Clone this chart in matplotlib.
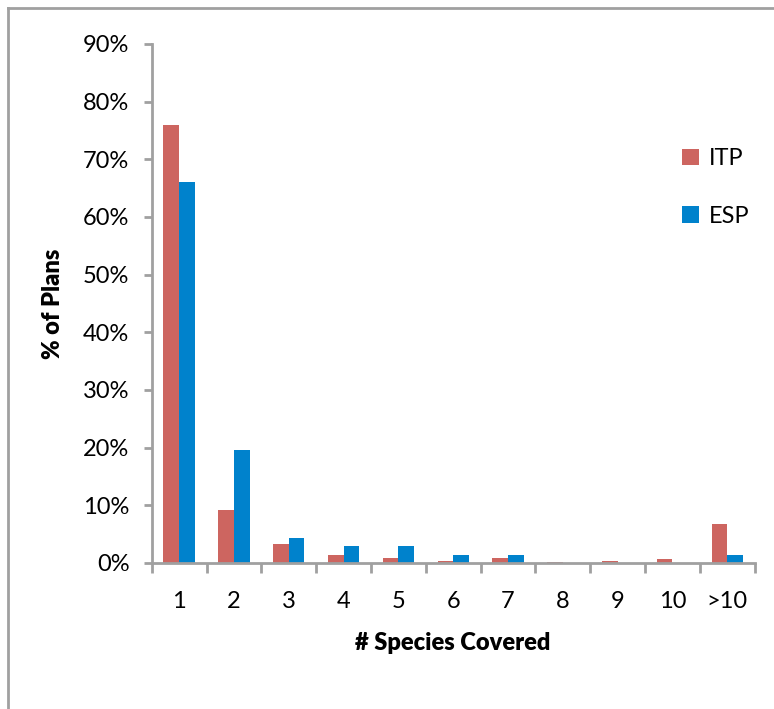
import matplotlib.pyplot as plt
import matplotlib.lines as mlines
import numpy as np

categories = ['1', '2', '3', '4', '5', '6', '7', '8', '9', '10', '>10']
itp = [76.0, 9.2, 3.3, 1.3, 0.9, 0.4, 0.8, 0.2, 0.4, 0.6, 6.8]
esp = [66.0, 19.6, 4.3, 2.9, 2.9, 1.3, 1.3, 0.0, 0.0, 0.0, 1.3]

red = '#CD6560'
blue = '#0082CC'
grey = '#A0A0A0'

plt.rcParams['font.family'] = ['Lato', 'DejaVu Sans']

fig = plt.figure(figsize=(7.74, 7.09), dpi=100)
ax = fig.add_axes([0.196, 0.206, 0.779, 0.732])

x = np.arange(len(categories))
w = 0.285
ax.bar(x - w / 2, itp, w, color=red, label='ITP')
ax.bar(x + w / 2, esp, w, color=blue, label='ESP')

ax.set_xlim(-0.5, len(categories) - 0.5)
ax.set_ylim(0, 90)
ax.set_yticks(np.arange(0, 91, 10))
ax.set_yticklabels([f'{v}%' for v in range(0, 91, 10)])

# category labels centred, tick marks between the groups
ax.set_xticks(x)
ax.set_xticklabels(categories)
ax.set_xticks(np.arange(-0.5, len(categories), 1), minor=True)
ax.tick_params(axis='x', which='major', length=0, pad=20, labelsize=17)
ax.tick_params(axis='x', which='minor', length=7, width=2, color=grey)
ax.tick_params(axis='y', length=6, width=2, color=grey, labelsize=17, pad=10)

for s in ['top', 'right']:
    ax.spines[s].set_visible(False)
for s in ['left', 'bottom']:
    ax.spines[s].set_color(grey)
    ax.spines[s].set_linewidth(2)

ax.set_xlabel('# Species Covered', fontsize=17, fontweight='heavy')
ax.xaxis.set_label_coords(0.5, -0.133)
ax.set_ylabel('% of Plans', fontsize=17, fontweight='heavy')
ax.yaxis.set_label_coords(-0.145, 0.5)

ax.legend(loc='upper left', bbox_to_anchor=(0.845, 0.84), frameon=False,
          fontsize=17, handlelength=0.7, handleheight=0.7,
          handletextpad=0.4, labelspacing=1.55)

# outer chart border
fig.add_artist(mlines.Line2D([8 / 774, 8 / 774], [0, 1 - 8 / 709],
                             color=grey, lw=2, transform=fig.transFigure))
fig.add_artist(mlines.Line2D([8 / 774, 1], [1 - 8 / 709, 1 - 8 / 709],
                             color=grey, lw=2, transform=fig.transFigure))

fig.savefig('out.png', dpi=100)
